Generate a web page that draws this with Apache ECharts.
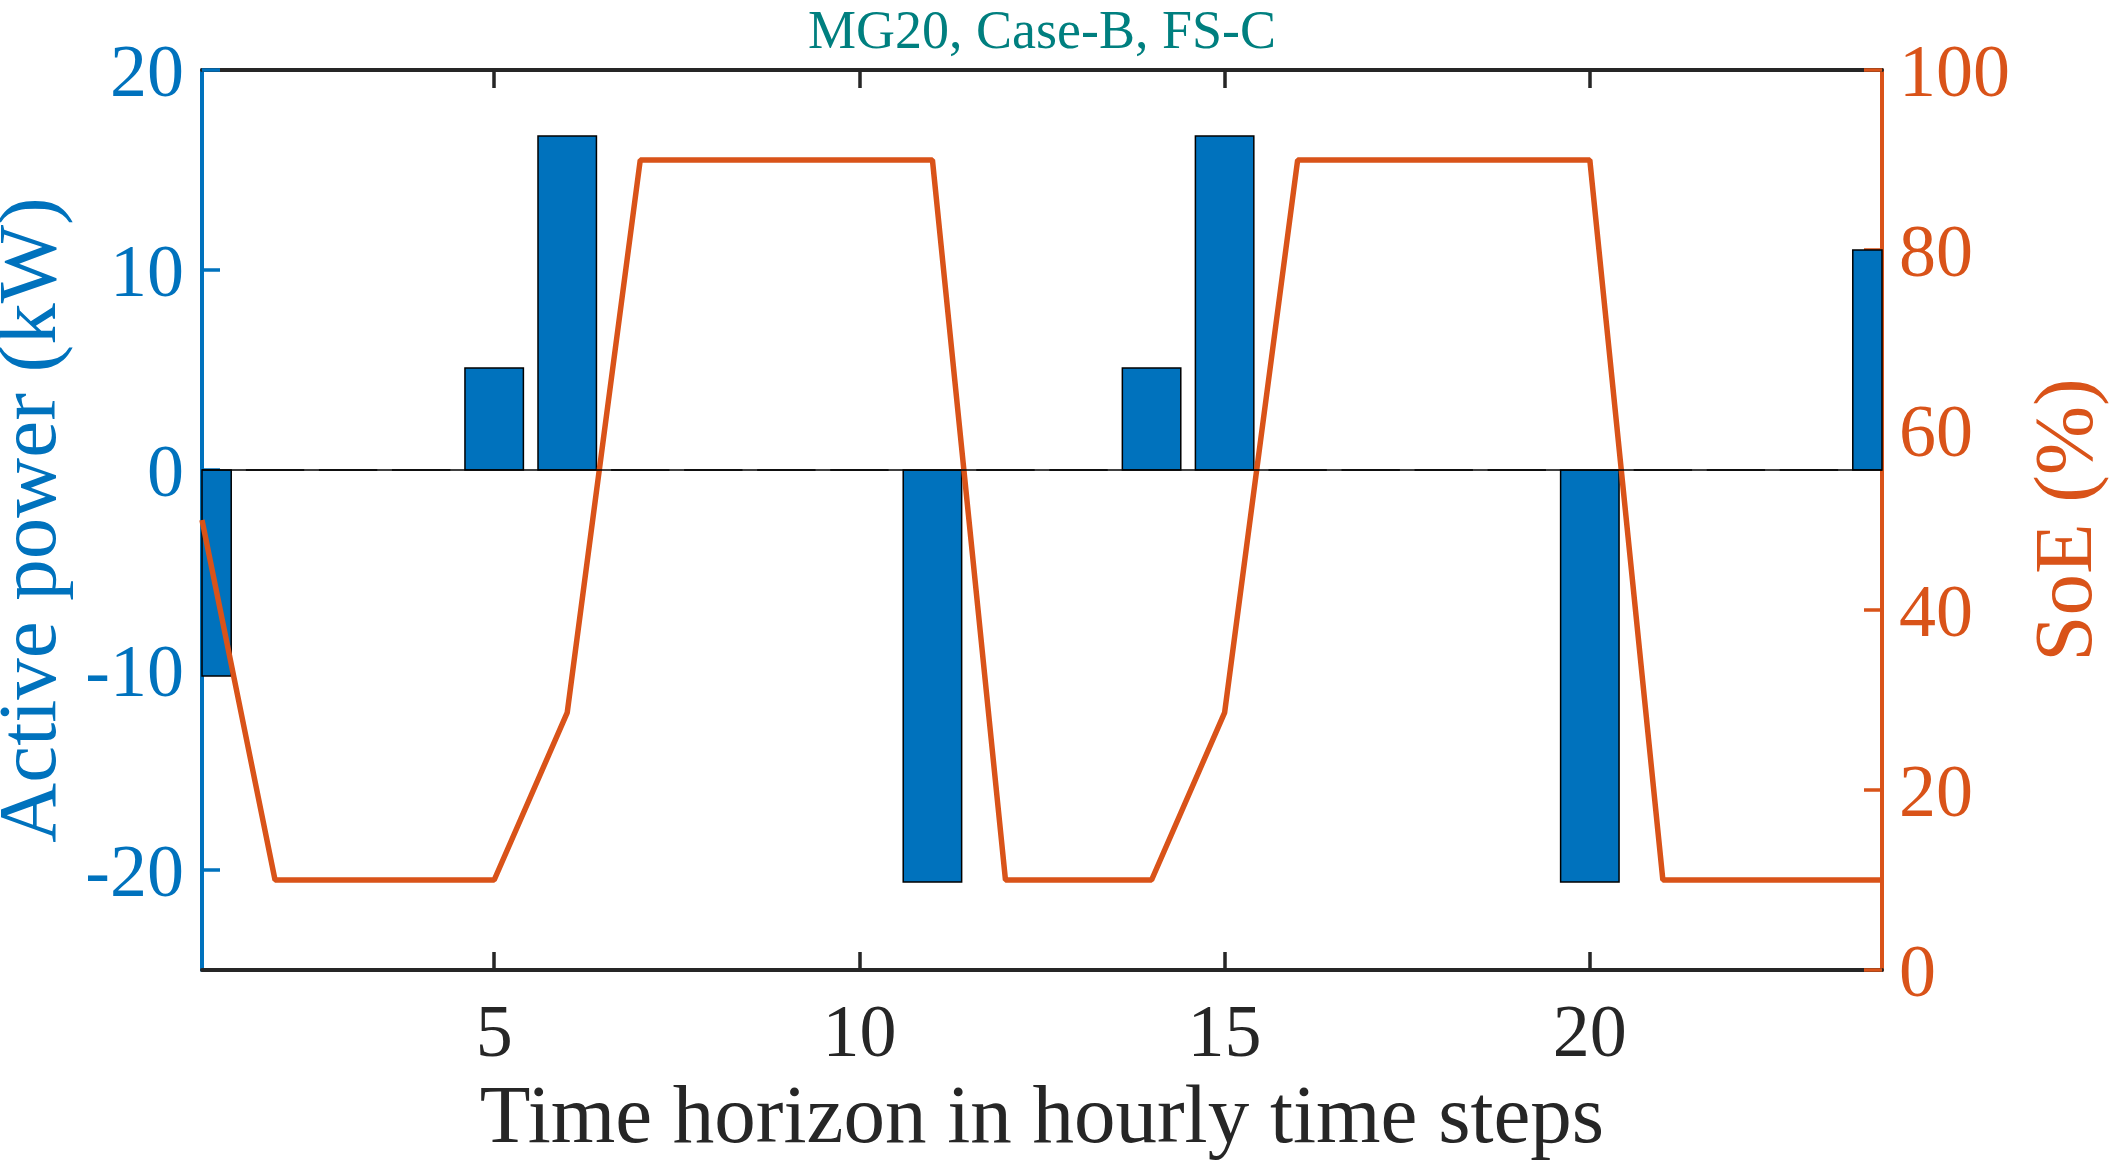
<!DOCTYPE html>
<html>
<head>
<meta charset="utf-8">
<title>MG20, Case-B, FS-C</title>
<script src="https://cdn.jsdelivr.net/npm/echarts@6/dist/echarts.min.js"></script>
<style>
  html, body { margin: 0; padding: 0; background: #ffffff; }
  #chart { width: 2112px; height: 1169px; }
</style>
</head>
<body>
<div id="chart"></div>
<script>
// Hourly time steps of the horizon
const hours = [1, 2, 3, 4, 5, 6, 7, 8, 9, 10, 11, 12, 13, 14, 15, 16, 17, 18, 19, 20, 21, 22, 23, 24];
// Storage active power per hour (kW), positive = charging
const powerKW = [-10.3, 0, 0, 0, 5.1, 16.7, 0, 0, 0, 0, -20.6, 0, 0, 5.1, 16.7, 0, 0, 0, 0, -20.6, 0, 0, 0, 11.0];
// State of energy per hour (%)
const soePct = [50, 10, 10, 10, 10, 28.6, 90, 90, 90, 90, 90, 10, 10, 10, 28.6, 90, 90, 90, 90, 90, 10, 10, 10, 10];
// Tick labels
const hourTicks = [5, 10, 15, 20];
const powerTicks = [-20, -10, 0, 10, 20];
const soeTicks = [0, 20, 40, 60, 80, 100];

const BLUE = '#0072BD';
const ORANGE = '#D95319';
const DARK = '#262626';
const TEAL = '#007F7F';
const FONT = "'Liberation Serif', 'Times New Roman', serif";
const BAR_HALF = 0.4; // half bar width, in hours

const powerData = hours.map((h, i) => [h, powerKW[i]]);
const soeData = hours.map((h, i) => [h, soePct[i]]);

const chart = echarts.init(document.getElementById('chart'), null, { renderer: 'canvas' });

// Bars drawn through the axis scales and clipped to the plot box
function renderBar(params, api) {
  const x = api.value(0);
  const v = api.value(1);
  const a = api.coord([x - BAR_HALF, 0]);
  const b = api.coord([x + BAR_HALF, v]);
  const rect = {
    x: Math.min(a[0], b[0]),
    y: Math.min(a[1], b[1]),
    width: Math.abs(b[0] - a[0]),
    height: Math.abs(b[1] - a[1])
  };
  const cs = params.coordSys;
  const clipped = echarts.graphic.clipRectByRect(rect, { x: cs.x, y: cs.y, width: cs.width, height: cs.height });
  if (!clipped) return null;
  return {
    type: 'rect',
    shape: clipped,
    style: { fill: BLUE, stroke: '#000000', lineWidth: 1.5 }
  };
}

// Y tick labels sit slightly below their ticks
function yLabel(color, margin, ticks) {
  return {
    customValues: ticks,
    margin: margin,
    formatter: '{v|{value}}',
    rich: { v: { color: color, fontSize: 74, fontFamily: FONT, padding: [14, 0, 0, 0] } }
  };
}

const xCommon = {
  type: 'value',
  min: 1,
  max: 24,
  splitLine: { show: false },
  axisLine: { show: true, onZero: false, lineStyle: { color: DARK, width: 4 } },
  axisTick: { show: true, inside: true, length: 18, customValues: hourTicks, lineStyle: { color: DARK, width: 3.5 } }
};

chart.setOption({
  animation: false,
  backgroundColor: '#ffffff',
  grid: { left: 202, right: 230, top: 70, bottom: 199, containLabel: false, outerBoundsMode: 'none' },
  xAxis: [
    Object.assign({}, xCommon, {
      position: 'bottom',
      axisLabel: { customValues: hourTicks, color: DARK, fontSize: 74, fontFamily: FONT, margin: 30 },
      name: 'Time horizon in hourly time steps',
      nameLocation: 'middle',
      nameGap: 107,
      nameTextStyle: { color: DARK, fontSize: 83, fontFamily: FONT }
    }),
    Object.assign({}, xCommon, {
      position: 'top',
      axisLabel: { show: false },
      name: 'MG20, Case-B, FS-C',
      nameLocation: 'middle',
      nameGap: 9,
      nameTextStyle: { color: TEAL, fontSize: 54, fontFamily: FONT }
    })
  ],
  yAxis: [
    {
      type: 'value',
      position: 'left',
      min: -25,
      max: 20,
      splitLine: { show: false },
      axisLine: { show: true, lineStyle: { color: BLUE, width: 4 } },
      axisTick: { show: true, inside: true, length: 18, customValues: powerTicks, lineStyle: { color: BLUE, width: 3.5 } },
      axisLabel: yLabel(BLUE, 18, powerTicks),
      name: 'Active power (kW)',
      nameLocation: 'middle',
      nameRotate: 90,
      nameGap: 113,
      nameTextStyle: { color: BLUE, fontSize: 83, fontFamily: FONT }
    },
    {
      type: 'value',
      position: 'right',
      min: 0,
      max: 100,
      interval: 20,
      splitLine: { show: false },
      axisLine: { show: true, lineStyle: { color: ORANGE, width: 4 } },
      axisTick: { show: true, inside: true, length: 18, customValues: soeTicks, lineStyle: { color: ORANGE, width: 3.5 } },
      axisLabel: yLabel(ORANGE, 17, soeTicks),
      name: 'SoE (%)',
      nameLocation: 'middle',
      nameRotate: 90,
      nameGap: 146,
      nameTextStyle: { color: ORANGE, fontSize: 83, fontFamily: FONT }
    }
  ],
  series: [
    {
      name: 'Active power',
      type: 'custom',
      xAxisIndex: 0,
      yAxisIndex: 0,
      data: powerData,
      encode: { x: 0, y: 1 },
      renderItem: renderBar,
      markLine: {
        silent: true,
        symbol: 'none',
        label: { show: false },
        lineStyle: { color: '#000000', width: 1.5, type: 'solid' },
        data: [{ yAxis: 0 }]
      },
      z: 2
    },
    {
      name: 'SoE',
      type: 'line',
      xAxisIndex: 0,
      yAxisIndex: 1,
      data: soeData,
      showSymbol: false,
      symbol: 'none',
      lineStyle: { color: ORANGE, width: 5.5 },
      clip: true,
      z: 3
    }
  ]
});
</script>
</body>
</html>
